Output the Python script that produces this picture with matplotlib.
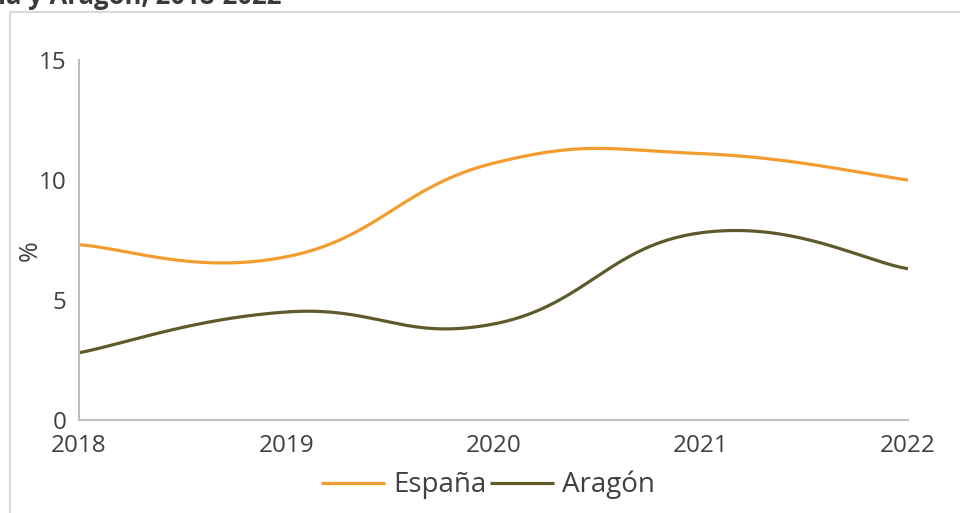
import numpy as np
import matplotlib
matplotlib.use("Agg")
from matplotlib import pyplot as plt
from matplotlib.patches import Rectangle

plt.rcParams['font.family'] = ['Open Sans', 'DejaVu Sans']

years = [2018, 2019, 2020, 2021, 2022]
espana = [7.3, 6.8, 10.7, 11.1, 10.0]
aragon = [2.8, 4.5, 4.0, 7.8, 6.3]

col_esp = '#F39C2F'
col_ara = '#5E5A2B'
grey_txt = '#404040'


def smooth(x, y, n=40, k=4.5):
    # excel style smoothed line: cubic bezier with control points from neighbours
    x = np.asarray(x, float)
    y = np.asarray(y, float)
    px = np.concatenate([[x[0]], x, [x[-1]]])
    py = np.concatenate([[y[0]], y, [y[-1]]])
    xs, ys = [], []
    t = np.linspace(0, 1, n)
    for i in range(len(x) - 1):
        p0 = np.array([x[i], y[i]])
        p3 = np.array([x[i + 1], y[i + 1]])
        p1 = p0 + (np.array([px[i + 2], py[i + 2]]) - np.array([px[i], py[i]])) / k
        p2 = p3 - (np.array([px[i + 3], py[i + 3]]) - np.array([px[i + 1], py[i + 1]])) / k
        b = ((1 - t) ** 3)[:, None] * p0 + (3 * (1 - t) ** 2 * t)[:, None] * p1 \
            + (3 * (1 - t) * t ** 2)[:, None] * p2 + (t ** 3)[:, None] * p3
        xs.extend(b[:, 0])
        ys.extend(b[:, 1])
    return np.array(xs), np.array(ys)


fig = plt.figure(figsize=(9.6, 5.13), dpi=100)

# outer frame of the chart box
fig.patches.append(Rectangle((10 / 960, -0.1), 1.2, (513 - 12) / 513 + 0.1,
                             transform=fig.transFigure, fill=False,
                             edgecolor='#D9D9D9', linewidth=1.5))
fig.text(282 / 960, 1 - 4 / 513, 'España y Aragón, 2018-2022', ha='right', va='baseline',
         fontsize=18.5, fontweight='bold', color='#3A3A3A')

ax = fig.add_axes([79 / 960, 93 / 513, 829 / 960, 360 / 513])

xs, ys = smooth(years, espana)
ax.plot(xs, ys, color=col_esp, lw=2.3, label='España', solid_capstyle='butt')
xs, ys = smooth(years, aragon)
ax.plot(xs, ys, color=col_ara, lw=2.3, label='Aragón', solid_capstyle='butt')

ax.set_xlim(2018, 2022)
ax.set_ylim(0, 15)
ax.set_xticks(years)
ax.set_yticks([0, 5, 10, 15])
ax.tick_params(length=0, labelsize=17.5, colors=grey_txt)
ax.tick_params(axis='y', pad=9)
ax.tick_params(axis='x', pad=10)
for s in ['top', 'right']:
    ax.spines[s].set_visible(False)
for s in ['left', 'bottom']:
    ax.spines[s].set_color('#BFBFBF')
    ax.spines[s].set_linewidth(1.5)
ax.set_ylabel('%', fontsize=18, color=grey_txt)
ax.yaxis.set_label_coords((43 - 79) / 829, 0.47)
ax.patch.set_visible(False)

fig.legend(loc='center', bbox_to_anchor=(488 / 960, 1 - 485 / 513), ncol=2,
           frameon=False, fontsize=20, handlelength=2.3, handletextpad=0.3,
           columnspacing=0.15, labelcolor=grey_txt)

fig.savefig('out.png', dpi=100)
